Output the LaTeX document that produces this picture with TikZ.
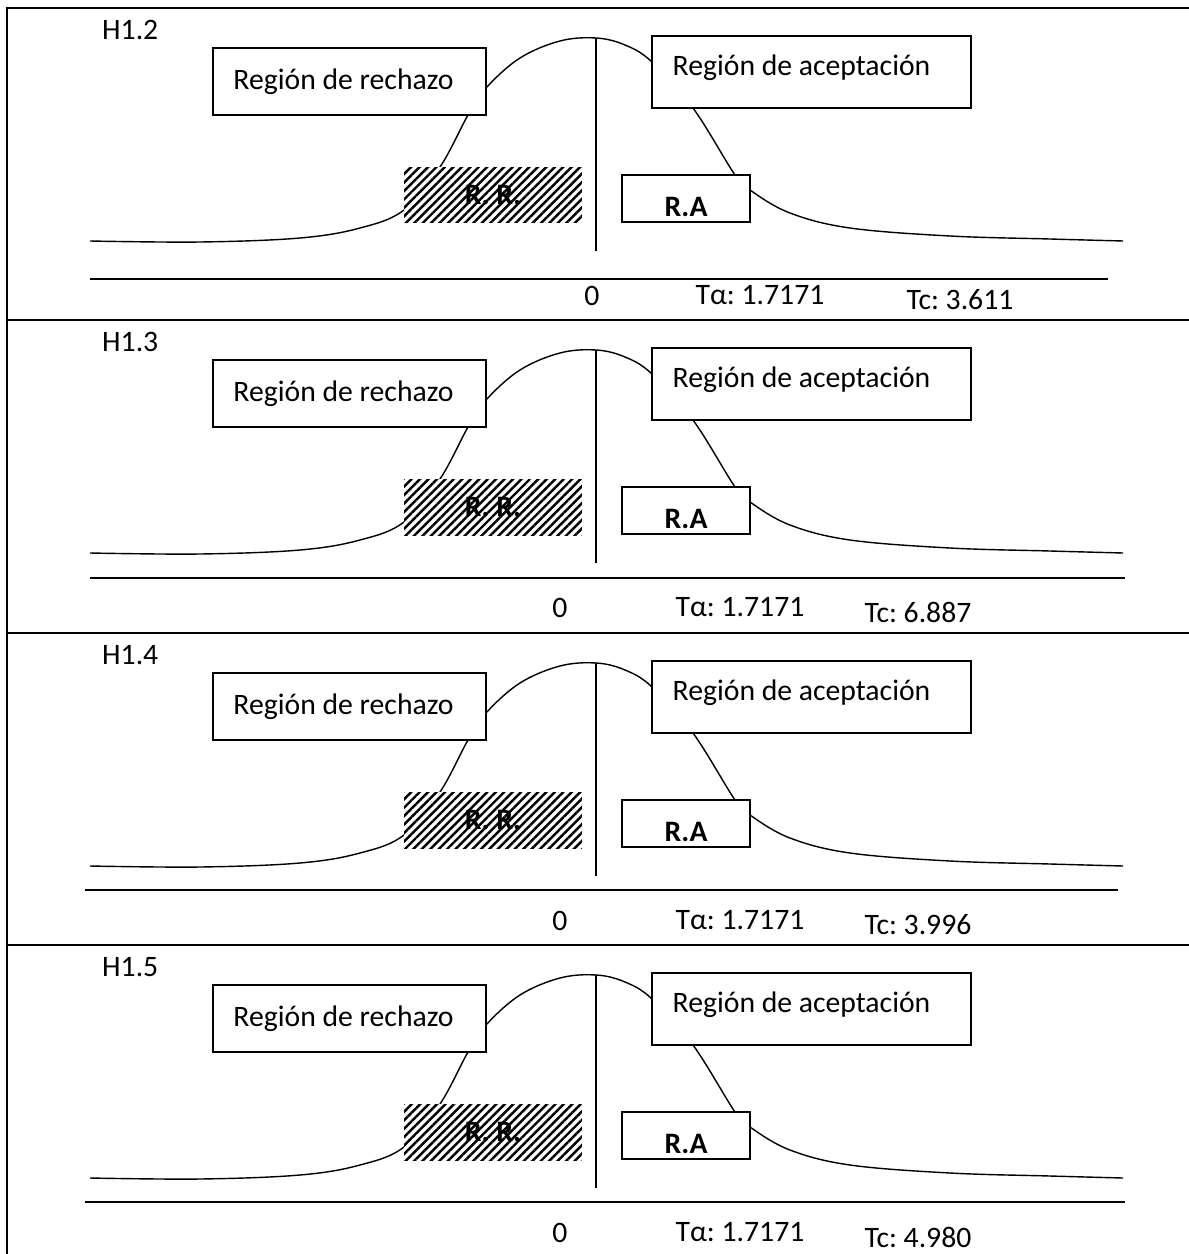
\documentclass[tikz,border=0pt]{standalone}
\usepackage{fontspec}
\setmainfont{Carlito}
\usetikzlibrary{patterns.meta}
\frenchspacing

\begin{document}
\begin{tikzpicture}
[x=0.02cm,y=-0.02cm,every node/.style={font=\fontsize{16.9}{20}\selectfont},
 region/.style={rectangle,draw=black,thick,fill=white,inner sep=0pt},
 hatchbox/.style={rectangle,inner sep=0pt,preaction={fill=white},
   pattern={Lines[angle=45,distance=3.4pt,line width=1.4pt]}},
 bell/.style={thick},
 rule/.style={line width=1.1pt}]

\useasboundingbox (0,0) rectangle (1189,1254);

% frame of the table
\draw[rule] (7,1254) -- (7,8) -- (1189,8);
\foreach \y in {320,633,945} \draw[rule] (7,\y) -- (1189,\y);

\foreach \t/\h/\tc/\ay/\al/\ae/\zx/\ax/\cx [count=\n] in
  {8/H1.2/3.611/271/90/1108/592/760/960,
   320/H1.3/6.887/258/90/1125/560/740/918,
   633/H1.4/3.996/257/85/1118/560/740/918,
   945/H1.5/4.980/257/85/1125/560/740/918}
{
\begin{scope}[shift={(0,\t)}]
\node[anchor=west] (hyp\n) at (96,22) {\h};
% curve first, the boxes are laid on top of it
\draw[bell] plot[smooth,tension=0.6] coordinates {(90,233) (200,234) (300,230) (360,220)
  (404,202) (440,159) (468,107) (486,80) (520,50) (560,33) (596,30) (625,37) (652,54)
  (693,100) (735,167) (750,182) (790,205) (850,220) (950,228) (1050,231) (1123,233)};
\draw[thick] (596,30) -- (596,243);
\node[region,minimum width=5.46cm,minimum height=1.34cm] (rech\n) at (349.5,73.5) {\hspace*{-0.24cm}Región de rechazo};
\node[region,minimum width=6.38cm,minimum height=1.44cm] (acep\n) at (811.5,64) {\hspace*{-0.4cm}\raisebox{0.08cm}[\height][\depth]{Región de aceptación}};
\node[hatchbox,minimum width=3.56cm,minimum height=1.12cm] (rr\n) at (493,187) {\textbf{R. R.}};
\node[region,minimum width=2.56cm,minimum height=0.94cm] (ra\n) at (686,190.5) {\raisebox{-0.17cm}[\height][\depth]{\textbf{R.A}}};
% axis and values
\draw[rule] (\al,\ay) -- (\ae,\ay);
\node (cero\n) at (\zx,288) {0};
\node (talfa\n) at (\ax,287) {Tα: 1.7171};
\node (tc\n) at (\cx,292) {Tc: \tc};
\end{scope}
}
\end{tikzpicture}
\end{document}
